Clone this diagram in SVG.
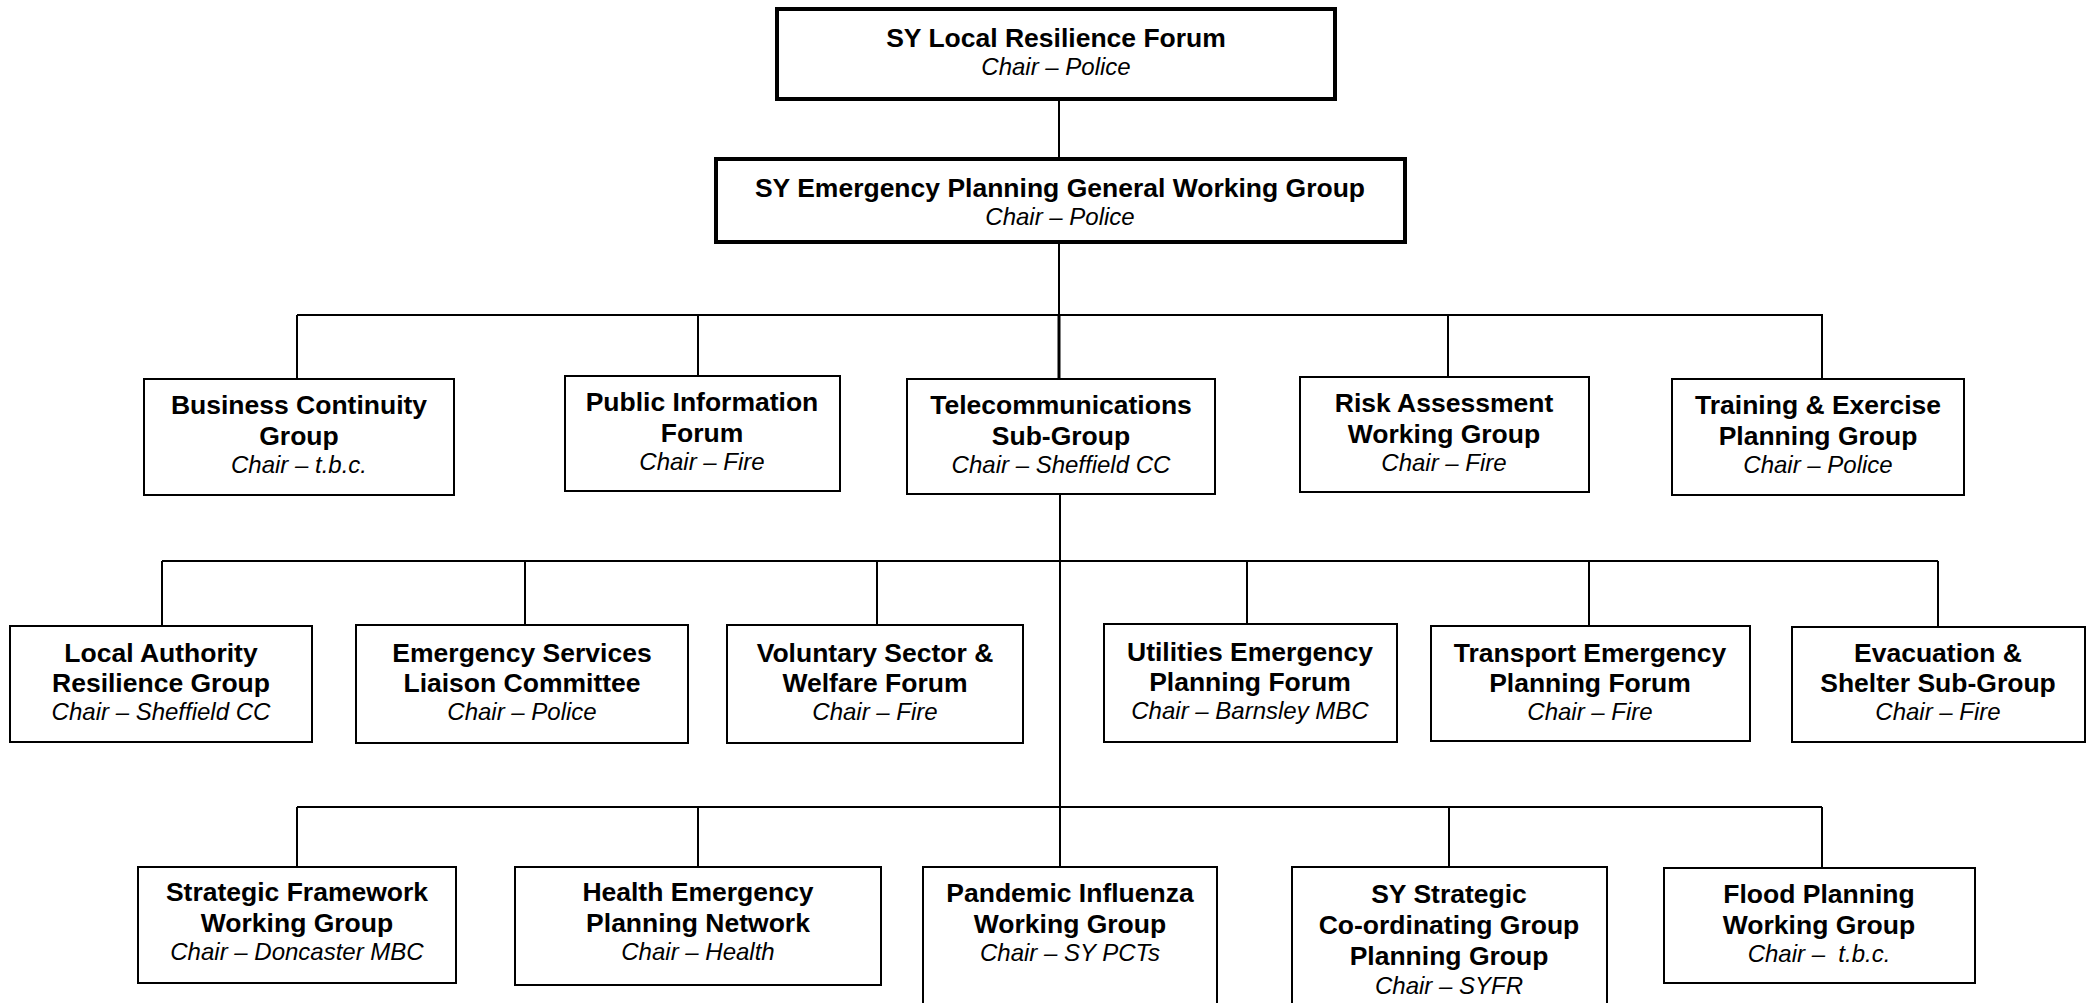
<svg xmlns="http://www.w3.org/2000/svg" width="2094" height="1003" viewBox="0 0 2094 1003">
<style>
.bx{fill:#fff;stroke:#000;stroke-width:2}
.bxT{fill:#fff;stroke:#000;stroke-width:4}
.ln{stroke:#000;stroke-width:2;fill:none}
text{font-family:"Liberation Sans",Arial,sans-serif;text-anchor:middle;fill:#000}
.t{font-size:26.5px;font-weight:bold}
.c{font-size:24px;font-style:italic}
</style>
<rect width="2094" height="1003" fill="#fff"/>
<g id="connectors">
<path class="ln" d="M1059 99V159M1059 242V315M297 315H1823M297 315V379M698 315V376M1059 315V379M1448 315V377M1822 315V379"/>
<path class="ln" d="M1060 494V867M162 561H1938M162 561V626M525 561V625M877 561V625M1247 561V624M1589 561V626M1938 561V627"/>
<path class="ln" d="M297 807H1822M297 807V867M698 807V867M1449 807V867M1822 807V868"/>
<path class="ln" style="stroke-width:3" d="M1059 315V379"/>
</g>
<g id="n-lrf"><rect class="bxT" x="777" y="9" width="558" height="90"/><text class="t" x="1056" y="47">SY Local Resilience Forum</text><text class="c" x="1056" y="75">Chair – Police</text></g>
<g id="n-epgwg"><rect class="bxT" x="716" y="159" width="689" height="83"/><text class="t" x="1060" y="197">SY Emergency Planning General Working Group</text><text class="c" x="1060" y="225">Chair – Police</text></g>

<g id="n-bcg"><rect class="bx" x="144" y="379" width="310" height="116"/><text class="t" x="299" y="414">Business Continuity</text><text class="t" x="299" y="445">Group</text><text class="c" x="299" y="473">Chair – t.b.c.</text></g>
<g id="n-pif"><rect class="bx" x="565" y="376" width="275" height="115"/><text class="t" x="702" y="411">Public Information</text><text class="t" x="702" y="442">Forum</text><text class="c" x="702" y="470">Chair – Fire</text></g>
<g id="n-tsg"><rect class="bx" x="907" y="379" width="308" height="115"/><text class="t" x="1061" y="414">Telecommunications</text><text class="t" x="1061" y="445">Sub-Group</text><text class="c" x="1061" y="473">Chair – Sheffield CC</text></g>
<g id="n-rawg"><rect class="bx" x="1300" y="377" width="289" height="115"/><text class="t" x="1444" y="412">Risk Assessment</text><text class="t" x="1444" y="443">Working Group</text><text class="c" x="1444" y="471">Chair – Fire</text></g>
<g id="n-tepg"><rect class="bx" x="1672" y="379" width="292" height="116"/><text class="t" x="1818" y="414">Training &amp; Exercise</text><text class="t" x="1818" y="445">Planning Group</text><text class="c" x="1818" y="473">Chair – Police</text></g>

<g id="n-larg"><rect class="bx" x="10" y="626" width="302" height="116"/><text class="t" x="161" y="662">Local Authority</text><text class="t" x="161" y="692">Resilience Group</text><text class="c" x="161" y="720">Chair – Sheffield CC</text></g>
<g id="n-eslc"><rect class="bx" x="356" y="625" width="332" height="118"/><text class="t" x="522" y="662">Emergency Services</text><text class="t" x="522" y="692">Liaison Committee</text><text class="c" x="522" y="720">Chair – Police</text></g>
<g id="n-vswf"><rect class="bx" x="727" y="625" width="296" height="118"/><text class="t" x="875" y="662">Voluntary Sector &amp;</text><text class="t" x="875" y="692">Welfare Forum</text><text class="c" x="875" y="720">Chair – Fire</text></g>
<g id="n-uepf"><rect class="bx" x="1104" y="624" width="293" height="118"/><text class="t" x="1250" y="661">Utilities Emergency</text><text class="t" x="1250" y="691">Planning Forum</text><text class="c" x="1250" y="719">Chair – Barnsley MBC</text></g>
<g id="n-tepf"><rect class="bx" x="1431" y="626" width="319" height="115"/><text class="t" x="1590" y="662">Transport Emergency</text><text class="t" x="1590" y="692">Planning Forum</text><text class="c" x="1590" y="720">Chair – Fire</text></g>
<g id="n-essg"><rect class="bx" x="1792" y="627" width="293" height="115"/><text class="t" x="1938" y="662">Evacuation &amp;</text><text class="t" x="1938" y="692">Shelter Sub-Group</text><text class="c" x="1938" y="720">Chair – Fire</text></g>

<g id="n-sfwg"><rect class="bx" x="138" y="867" width="318" height="116"/><text class="t" x="297" y="901">Strategic Framework</text><text class="t" x="297" y="932">Working Group</text><text class="c" x="297" y="960">Chair – Doncaster MBC</text></g>
<g id="n-hepn"><rect class="bx" x="515" y="867" width="366" height="118"/><text class="t" x="698" y="901">Health Emergency</text><text class="t" x="698" y="932">Planning Network</text><text class="c" x="698" y="960">Chair – Health</text></g>
<g id="n-piwg"><rect class="bx" x="923" y="867" width="294" height="150"/><text class="t" x="1070" y="902">Pandemic Influenza</text><text class="t" x="1070" y="933">Working Group</text><text class="c" x="1070" y="961">Chair – SY PCTs</text></g>
<g id="n-scgpg"><rect class="bx" x="1292" y="867" width="315" height="150"/><text class="t" x="1449" y="903">SY Strategic</text><text class="t" x="1449" y="934">Co-ordinating Group</text><text class="t" x="1449" y="965">Planning Group</text><text class="c" x="1449" y="994">Chair – SYFR</text></g>
<g id="n-fpwg"><rect class="bx" x="1664" y="868" width="311" height="115"/><text class="t" x="1819" y="903">Flood Planning</text><text class="t" x="1819" y="934">Working Group</text><text class="c" x="1819" y="962" xml:space="preserve">Chair –  t.b.c.</text></g>
</svg>
